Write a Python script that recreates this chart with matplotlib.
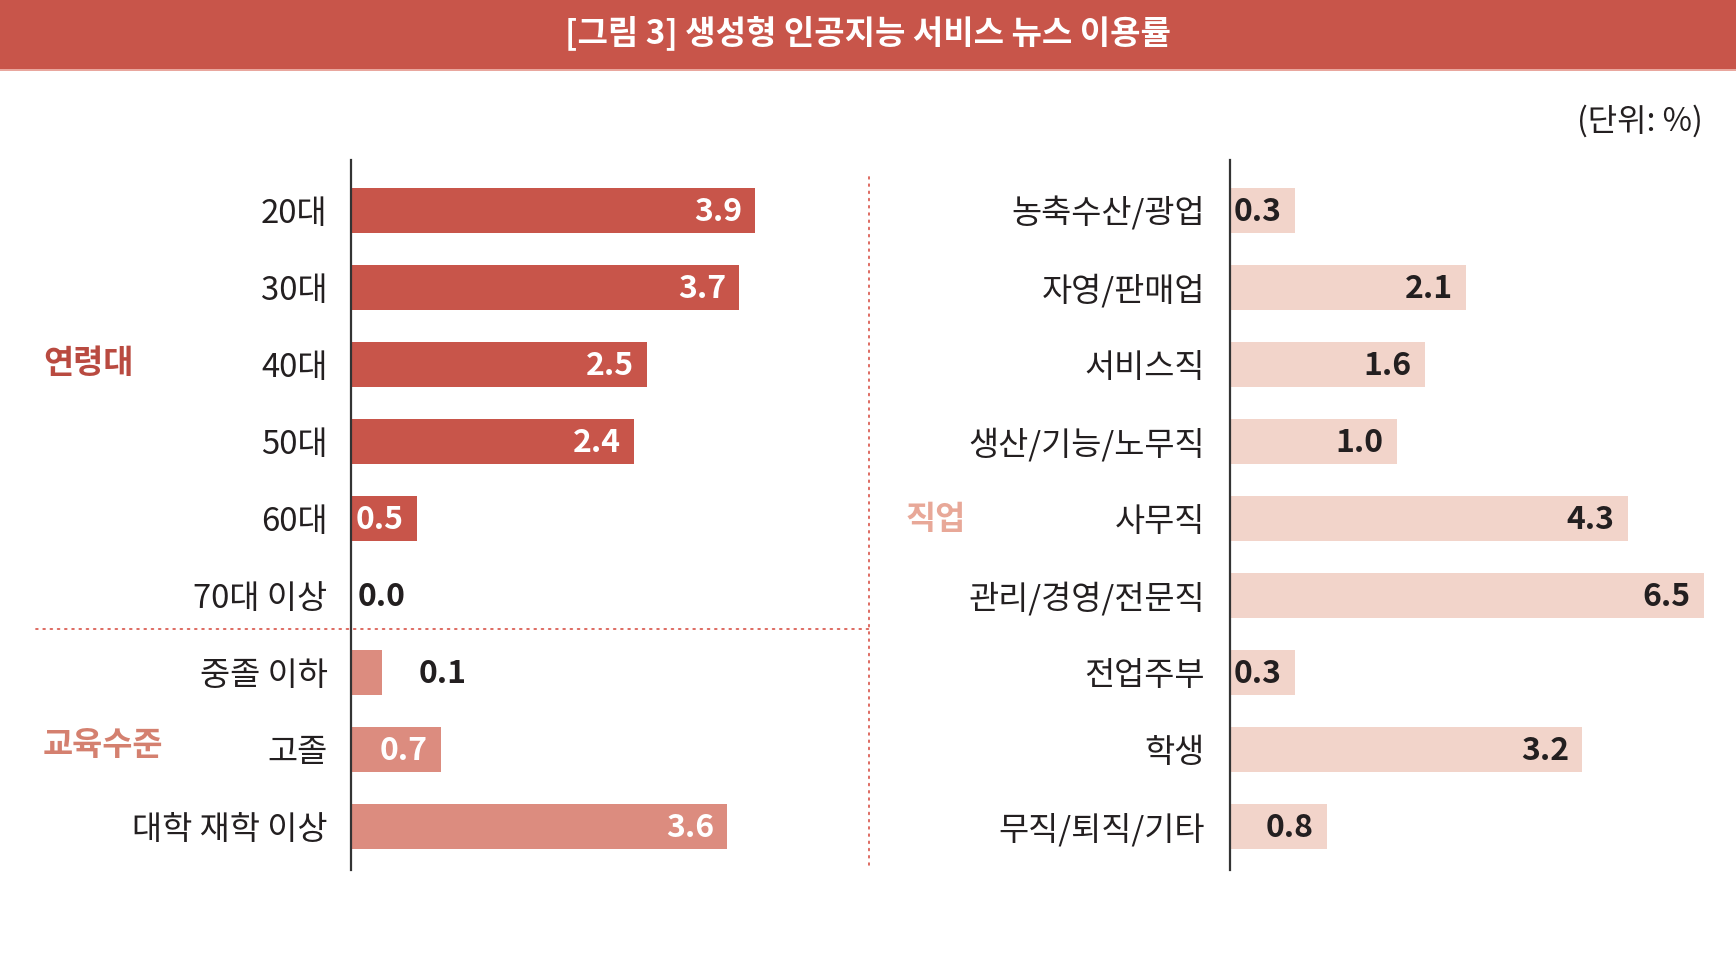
import matplotlib
matplotlib.use("Agg")
import matplotlib.pyplot as plt
from matplotlib.patches import Rectangle

plt.rcParams['font.family'] = ['Noto Sans CJK KR', 'DejaVu Sans']

# ---------------- data ----------------
title = "[그림 3] 생성형 인공지능 서비스 뉴스 이용률"
unit_text = "(단위: %)"

left_groups = ["연령대", "교육수준"]
left_categories = ["20대", "30대", "40대", "50대", "60대", "70대 이상",
                   "중졸 이하", "고졸", "대학 재학 이상"]
left_values = [3.9, 3.7, 2.5, 2.4, 0.5, 0.0, 0.1, 0.7, 3.6]
# bar lengths as drawn in the reference (not to the label scale)
left_drawn = [3.90, 3.75, 2.86, 2.73, 0.64, 0.0, 0.30, 0.87, 3.63]
left_group_of = [0, 0, 0, 0, 0, 0, 1, 1, 1]

right_group = "직업"
right_categories = ["농축수산/광업", "자영/판매업", "서비스직", "생산/기능/노무직",
                    "사무직", "관리/경영/전문직", "전업주부", "학생", "무직/퇴직/기타"]
right_values = [0.3, 2.1, 1.6, 1.0, 4.3, 6.5, 0.3, 3.2, 0.8]
right_drawn = [0.89, 3.24, 2.67, 2.29, 5.46, 6.50, 0.89, 4.83, 1.33]

# ---------------- style ----------------
W, H = 1736, 974
RED = "#C8554A"
EDU = "#DC8C7F"
JOB = "#F2D4CA"
DARK = "#231F20"
G_AGE = "#B94A40"
G_EDU = "#D4806F"
G_JOB = "#E8A898"
DOT = "#DB5F55"
FS = 23.6
FSV = 23

fig = plt.figure(figsize=(W / 100, H / 100), dpi=100)

# background overlay in pixel coordinates
bg = fig.add_axes([0, 0, 1, 1], zorder=0)
bg.set_xlim(0, W)
bg.set_ylim(H, 0)
bg.axis("off")
bg.add_patch(Rectangle((0, 0), W, 69, color=RED, lw=0))
bg.add_patch(Rectangle((0, 69), W, 2, color="#E9A79E", lw=0))
bg.text(W / 2, 33, title, color="white", fontsize=23.8, fontweight="bold",
        ha="center", va="center")
bg.text(1703, 121, unit_text, color=DARK, fontsize=23, ha="right", va="center")
# dotted separators
bg.plot([36, 869], [629, 629], color=DOT, lw=1.3, ls=(0, (1, 3)), dash_capstyle="round")
bg.plot([869, 869], [177, 870], color=DOT, lw=1.3, ls=(0, (1, 3)), dash_capstyle="round")
# group labels
bg.text(43, 364, left_groups[0], color=G_AGE, fontsize=FS, fontweight="bold",
        ha="left", va="center")
bg.text(43, 746, left_groups[1], color=G_EDU, fontsize=FS, fontweight="bold",
        ha="left", va="center")
bg.text(906, 520, right_group, color=G_JOB, fontsize=FS, fontweight="bold",
        ha="left", va="center")

# axes geometry (pixels)
top_px, bot_px = 160, 870
n = len(left_categories)
row_px = 77.0
y_top = -50 / row_px
y_bot = (n - 1) + 44 / row_px


def make_axes(x0_px, width_px, px_per_unit):
    ax = fig.add_axes([x0_px / W, 1 - bot_px / H, width_px / W, (bot_px - top_px) / H],
                      zorder=1)
    ax.set_facecolor("none")
    ax.set_xlim(0, width_px / px_per_unit)
    ax.set_ylim(y_bot, y_top)
    for s in ["top", "right", "bottom"]:
        ax.spines[s].set_visible(False)
    ax.spines["left"].set_color("#333333")
    ax.spines["left"].set_linewidth(1.6)
    ax.set_xticks([])
    return ax


PXU_L = 103.6
PXU_R = 72.9
axL = make_axes(351, 500, PXU_L)
axR = make_axes(1230, 500, PXU_R)

bar_h = 45 / row_px
DY = -1.5  # value label vertical nudge (points)

# left bars
colorsL = [RED if g == 0 else EDU for g in left_group_of]
yL = list(range(n))
axL.barh(yL, left_drawn, height=bar_h, color=colorsL, lw=0)
axL.set_yticks(yL)
axL.set_yticklabels(left_categories, fontsize=FS, color=DARK)
axL.tick_params(axis="y", length=0, pad=17)

for i, (v, d) in enumerate(zip(left_values, left_drawn)):
    lab = f"{v:.1f}"
    if d * PXU_L > 55:
        axL.annotate(lab, (d, i), xytext=(-9.5, DY), textcoords="offset points",
                     ha="right", va="center", fontsize=FSV, fontweight="bold",
                     color="white")
    elif v == 0:
        axL.annotate(lab, (0, i), xytext=(5, DY), textcoords="offset points",
                     ha="left", va="center", fontsize=FSV, fontweight="bold", color=DARK)
    else:
        axL.annotate(lab, (d, i), xytext=(26, DY), textcoords="offset points",
                     ha="left", va="center", fontsize=FSV, fontweight="bold", color=DARK)

# right bars
yR = list(range(len(right_categories)))
axR.barh(yR, right_drawn, height=bar_h, color=JOB, lw=0)
axR.set_yticks(yR)
axR.set_yticklabels(right_categories, fontsize=FS, color=DARK)
axR.tick_params(axis="y", length=0, pad=18)
for i, (v, d) in enumerate(zip(right_values, right_drawn)):
    axR.annotate(f"{v:.1f}", (d, i), xytext=(-9.5, DY), textcoords="offset points",
                 ha="right", va="center", fontsize=FSV, fontweight="bold", color=DARK)

fig.savefig("out.png", dpi=100)
